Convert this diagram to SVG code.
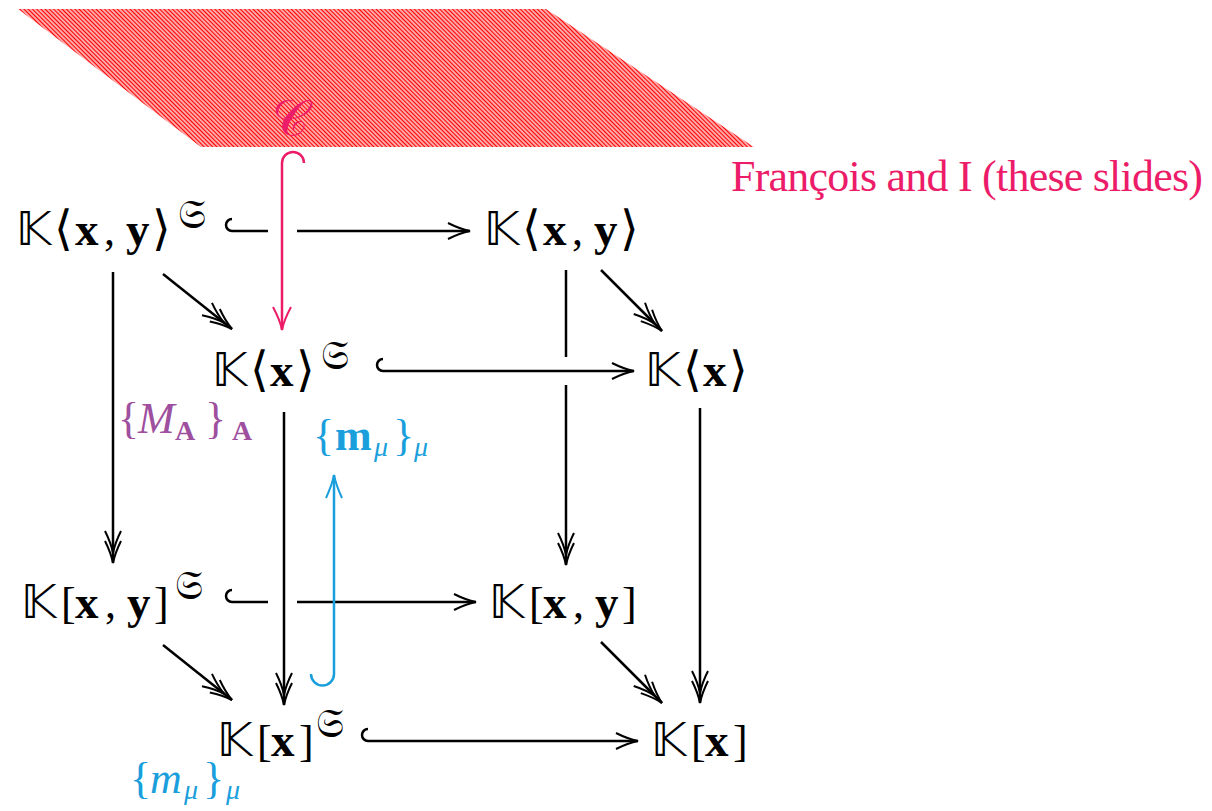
<svg xmlns="http://www.w3.org/2000/svg" width="1212" height="811" viewBox="0 0 1212 811">
<style>
.m{font-family:"Liberation Serif","DejaVu Serif",serif;font-size:44px;fill:#000}
.bb{font-family:"DejaVu Sans","DejaVu Serif",sans-serif;font-size:47px}
.b{font-weight:bold}
.nb{font-size:47px}
.br{font-family:"DejaVu Sans",sans-serif;font-size:48px}
.fr{font-family:"DejaVu Sans","DejaVu Serif",sans-serif;font-size:40px}
.it{font-style:italic}
.ln{fill:none;stroke:#000;stroke-width:2.5}
.pk{fill:#ec1c69}
.cy{fill:#1a9fdc}
.pu{fill:#9e4f9e}
</style>
<defs>
<pattern id="hatch" patternUnits="userSpaceOnUse" width="3" height="3" patternTransform="rotate(-45)">
<line x1="1.5" y1="-1" x2="1.5" y2="4" stroke="#ff0000" stroke-width="1.7"/>
</pattern>
<marker id="h1" markerUnits="userSpaceOnUse" viewBox="-30 -15 35 30" markerWidth="35" markerHeight="30" refX="0" refY="0" orient="auto" overflow="visible">
<path d="M -22 -8 Q -10 -2 0 0 Q -10 2 -22 8" fill="none" stroke="#000" stroke-width="2"/>
</marker>
<marker id="h2" markerUnits="userSpaceOnUse" viewBox="-40 -15 45 30" markerWidth="45" markerHeight="30" refX="0" refY="0" orient="auto" overflow="visible">
<path d="M -22 -8 Q -10 -2 0 0 Q -10 2 -22 8 M -32 -8 Q -20 -2 -10 0 Q -20 2 -32 8" fill="none" stroke="#000" stroke-width="2"/>
</marker>
<marker id="hp" markerUnits="userSpaceOnUse" viewBox="-30 -15 35 30" markerWidth="35" markerHeight="30" refX="0" refY="0" orient="auto" overflow="visible">
<path d="M -23 -9 Q -10 -2 0 0 Q -10 2 -23 9" fill="none" stroke="#ec1c69" stroke-width="2"/>
</marker>
<marker id="hc" markerUnits="userSpaceOnUse" viewBox="-30 -15 35 30" markerWidth="35" markerHeight="30" refX="0" refY="0" orient="auto" overflow="visible">
<path d="M -23 -8 Q -10 -2 0 0 Q -10 2 -23 8" fill="none" stroke="#1a9fdc" stroke-width="2"/>
</marker>
</defs>
<rect width="1212" height="811" fill="#fff"/>

<g id="plane">
<polygon points="18,9 546,9 754,147 201,147" fill="url(#hatch)"/>
<text class="pk" x="272" y="136" font-family="DejaVu Sans, sans-serif" font-size="50">𝒞</text>
<text class="m pk" x="731" y="191" font-size="40" textLength="472" lengthAdjust="spacing">François and I (these slides)</text>
</g>

<g id="connectors">
<path class="ln" d="M 232 231 A 6 6 0 0 1 232 219 M 232 231 L 268 231"/>
<path class="ln" d="M 297 231 L 470 231" marker-end="url(#h1)"/>
<path class="ln" d="M 383 371 A 6 6 0 0 1 383 359 M 383 371 L 634 371" marker-end="url(#h1)"/>
<path class="ln" d="M 232 602 A 6 6 0 0 1 232 590 M 232 602 L 268 602"/>
<path class="ln" d="M 297 602 L 476 602" marker-end="url(#h1)"/>
<path class="ln" d="M 368 741 A 6 6 0 0 1 368 729 M 368 741 L 638 741" marker-end="url(#h1)"/>
<path class="ln" d="M 113 272 L 113 563" marker-end="url(#h2)"/>
<path class="ln" d="M 566 270 L 566 357"/>
<path class="ln" d="M 566 385 L 566 565" marker-end="url(#h2)"/>
<path class="ln" d="M 284 412 L 284 705" marker-end="url(#h2)"/>
<path class="ln" d="M 700 408 L 700 703" marker-end="url(#h2)"/>
<path class="ln" d="M 163 274 L 232 329" marker-end="url(#h2)"/>
<path class="ln" d="M 601 270 L 662 331" marker-end="url(#h2)"/>
<path class="ln" d="M 163 645 L 232 700" marker-end="url(#h2)"/>
<path class="ln" d="M 601 642 L 662 703" marker-end="url(#h2)"/>
<path d="M 304 163 A 11 11 0 0 0 282 163 L 282 330" fill="none" stroke="#ec1c69" stroke-width="2.5" marker-end="url(#hp)"/>
<path d="M 311 674 A 11.5 11.5 0 0 0 334 674 L 334 475" fill="none" stroke="#1a9fdc" stroke-width="2.5" marker-end="url(#hc)"/>
</g>

<g id="nA" transform="translate(16,245)">
<text class="m"><tspan class="bb" x="0">𝕂</tspan><tspan class="br" x="38">⟨</tspan><tspan class="b nb" x="59">x</tspan><tspan x="88">,</tspan><tspan class="b nb" x="110">y</tspan><tspan class="br" x="136">⟩</tspan><tspan class="fr" x="162" y="-17">𝔖</tspan></text>
</g>
<g id="nB" transform="translate(484,245)">
<text class="m"><tspan class="bb" x="0">𝕂</tspan><tspan class="br" x="38">⟨</tspan><tspan class="b nb" x="59">x</tspan><tspan x="88">,</tspan><tspan class="b nb" x="110">y</tspan><tspan class="br" x="136">⟩</tspan></text>
</g>
<g id="nC" transform="translate(212,386)">
<text class="m"><tspan class="bb" x="0">𝕂</tspan><tspan class="br" x="38">⟨</tspan><tspan class="b nb" x="58">x</tspan><tspan class="br" x="84">⟩</tspan><tspan class="fr" x="109" y="-17">𝔖</tspan></text>
</g>
<g id="nD" transform="translate(645,386)">
<text class="m"><tspan class="bb" x="0">𝕂</tspan><tspan class="br" x="38">⟨</tspan><tspan class="b nb" x="58">x</tspan><tspan class="br" x="84">⟩</tspan></text>
</g>
<g id="nE" transform="translate(21,618)">
<text class="m"><tspan class="bb" x="0">𝕂</tspan><tspan x="40">[</tspan><tspan class="b nb" x="54">x</tspan><tspan x="84">,</tspan><tspan class="b nb" x="106">y</tspan><tspan x="133">]</tspan><tspan class="fr" x="154" y="-19">𝔖</tspan></text>
</g>
<g id="nF" transform="translate(489,618)">
<text class="m"><tspan class="bb" x="0">𝕂</tspan><tspan x="40">[</tspan><tspan class="b nb" x="54">x</tspan><tspan x="84">,</tspan><tspan class="b nb" x="106">y</tspan><tspan x="133">]</tspan></text>
</g>
<g id="nG" transform="translate(217,756)">
<text class="m"><tspan class="bb" x="0">𝕂</tspan><tspan x="40">[</tspan><tspan class="b nb" x="54">x</tspan><tspan x="82">]</tspan><tspan class="fr" x="99" y="-19">𝔖</tspan></text>
</g>
<g id="nH" transform="translate(651,756)">
<text class="m"><tspan class="bb" x="0">𝕂</tspan><tspan x="40">[</tspan><tspan class="b nb" x="54">x</tspan><tspan x="82">]</tspan></text>
</g>

<g id="labelMA">
<text class="m pu" y="433"><tspan x="118">{</tspan><tspan class="it" x="138">M</tspan><tspan class="b" x="175" y="440" font-size="28">A</tspan><tspan x="205" y="433">}</tspan><tspan class="b" x="232" y="440" font-size="28">A</tspan></text>
</g>
<g id="labelMuTop">
<text class="m cy" y="450"><tspan x="313">{</tspan><tspan class="b" x="335">m</tspan><tspan class="it" x="374" y="456" font-size="28">μ</tspan><tspan x="393" y="450">}</tspan><tspan class="it" x="414" y="456" font-size="28">μ</tspan></text>
</g>
<g id="labelMuBot">
<text class="m cy" y="793"><tspan x="130">{</tspan><tspan class="it" x="150">m</tspan><tspan class="it" x="184" y="799" font-size="28">μ</tspan><tspan x="203" y="793">}</tspan><tspan class="it" x="226" y="799" font-size="28">μ</tspan></text>
</g>
</svg>
